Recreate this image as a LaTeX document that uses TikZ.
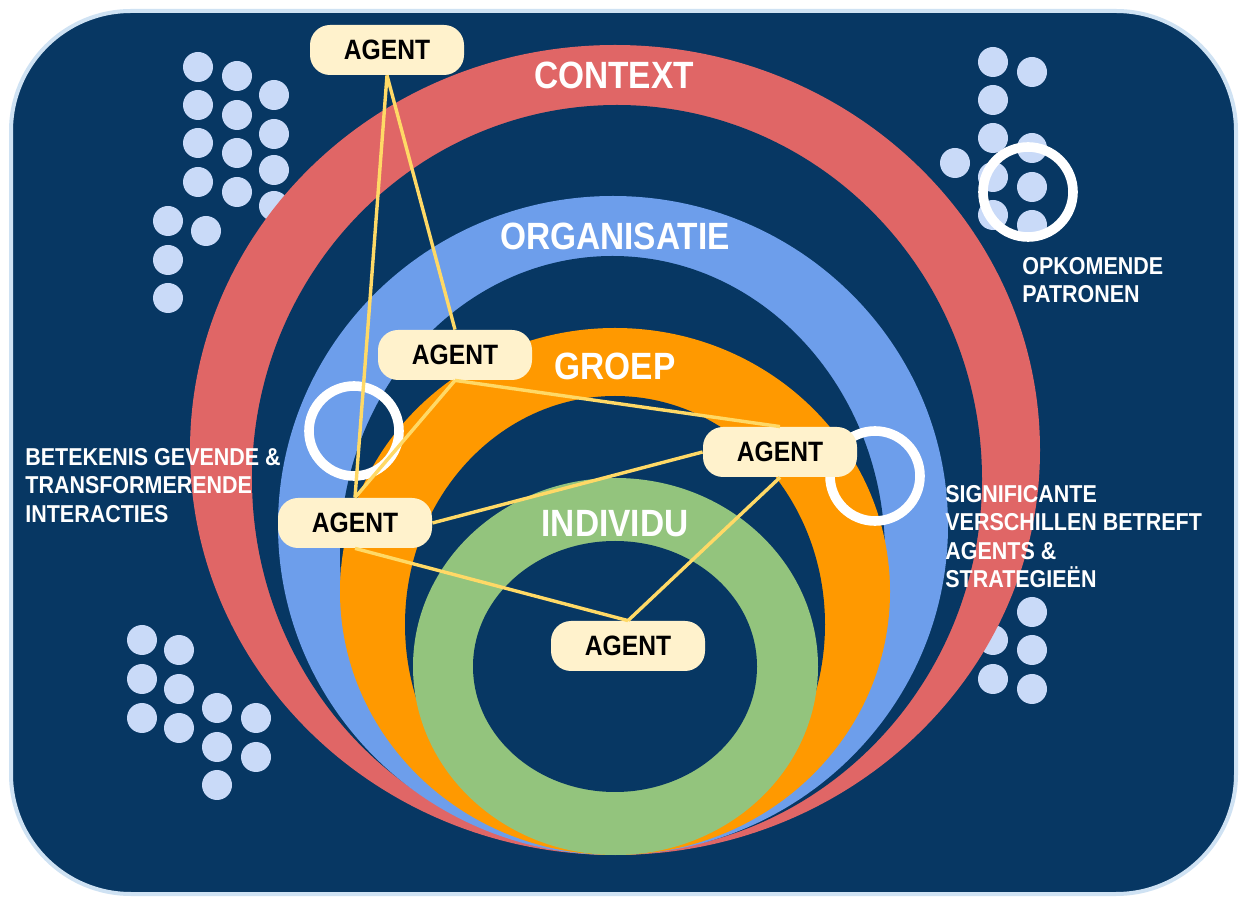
\documentclass[tikz,border=0pt]{standalone}
\usepackage{fontspec}
\setmainfont[FakeStretch=0.88]{Liberation Sans}
\usetikzlibrary{positioning}

\definecolor{navy}{HTML}{073763}
\definecolor{frameblue}{HTML}{CFE2F3}
\definecolor{ringred}{HTML}{E06666}
\definecolor{ringblue}{HTML}{6D9EEB}
\definecolor{ringorange}{HTML}{FF9900}
\definecolor{ringgreen}{HTML}{93C47D}
\definecolor{dotblue}{HTML}{C9DAF8}
\definecolor{agentfill}{HTML}{FFF2CC}
\definecolor{tieyellow}{HTML}{FFD966}

\begin{document}
\begin{tikzpicture}[x=0.5pt, y=-0.5pt,
    agent/.style={fill=agentfill, rounded corners=10pt, minimum width=77pt,
      minimum height=25pt, inner sep=0pt, font=\fontsize{14}{16}\selectfont\bfseries},
    ringlabel/.style={text=white, inner sep=0pt, font=\fontsize{19}{22}\selectfont\bfseries},
    note/.style={text=white, align=left, anchor=north west, inner sep=0pt,
      font=\fontsize{12.2}{14.2}\selectfont\bfseries},
    spot/.style={draw=white, line width=4.8pt, circle, minimum size=45pt, inner sep=0pt},
    tie/.style={draw=tieyellow, line width=1.7pt}]
  \useasboundingbox (0,0) rectangle (1243,897);
  \fill[white] (0,0) rectangle (1243,897);

  %% frame
  \draw[frameblue, line width=2pt, fill=navy, rounded corners=60pt] (11,11) rectangle (1236,894);

  %% dots
  \foreach \x/\y in {198/67, 198/105, 198/143, 198/182, 237/76, 237/115, 237/153, 237/192,
      274/95, 274/134, 274/170, 274/206, 168/221, 168/260, 168/298, 206/231,
      993/62, 993/100, 993/138, 993/177, 993/215, 1032/72, 1032/148, 1032/187, 1032/225, 955/163,
      142/640, 142/679, 142/718, 179/650, 179/689, 179/728, 217/708, 217/747, 217/785, 256/718, 256/757,
      1032/612, 1032/650, 1032/689, 993/640, 993/679}
    \fill[dotblue] (\x,\y) circle (15);

  %% rings
  \fill[ringred] (615,450) ellipse [x radius=425, y radius=405];
  \fill[navy] (617,479) ellipse [x radius=365, y radius=374];
  \fill[ringblue] (613,525.5) ellipse [x radius=335, y radius=329.5];
  \fill[navy] (612.5,554.5) ellipse [x radius=272.5, y radius=298.5];
  \fill[ringorange] (615,591.5) ellipse [x radius=275, y radius=263.5];
  \fill[navy] (615,624.5) ellipse [x radius=210, y radius=228.5];
  \fill[ringgreen] (615.5,666.5) ellipse [x radius=202.5, y radius=188.5];
  \fill[navy] (615,666.5) ellipse [x radius=142, y radius=125.5];

  \node[ringlabel] (R1) at (614,75) {CONTEXT};
  \node[ringlabel] (R2) at (615,236) {ORGANISATIE};
  \node[ringlabel] (R3) at (615,366) {GROEP};
  \node[ringlabel] (R4) at (615,524) {INDIVIDU};

  %% highlighted spots
  \node[spot] (S1) at (354,431) {};
  \node[spot] (S2) at (875,476) {};
  \node[spot] (S3) at (1028,192) {};

  %% agents
  \node[agent] (A1) at (387,50) {AGENT};
  \node[agent] (A2) at (455,355) {AGENT};
  \node[agent] (A3) at (780,452) {AGENT};
  \node[agent] (A4) at (355,523) {AGENT};
  \node[agent] (A5) at (628,646) {AGENT};

  \path
    (A1.south) edge[tie] (A4.north)
    (A1.south) edge[tie] (A2.north)
    (A2.south) edge[tie] (A3.north)
    (A2.south) edge[tie] (A4.north)
    (A4.east) edge[tie] (A3.west)
    (A4.south) edge[tie] (A5.north)
    (A3.south) edge[tie] (A5.north);

  %% notes
  \node[note] (T1) at (25,448) {BETEKENIS GEVENDE \&\\TRANSFORMERENDE\\INTERACTIES};
  \node[note] (T2) at (945,485) {SIGNIFICANTE\\VERSCHILLEN BETREFT\\AGENTS \&\\STRATEGIEËN};
  \node[note] (T3) at (1022,257) {OPKOMENDE\\PATRONEN};
\end{tikzpicture}
\end{document}
